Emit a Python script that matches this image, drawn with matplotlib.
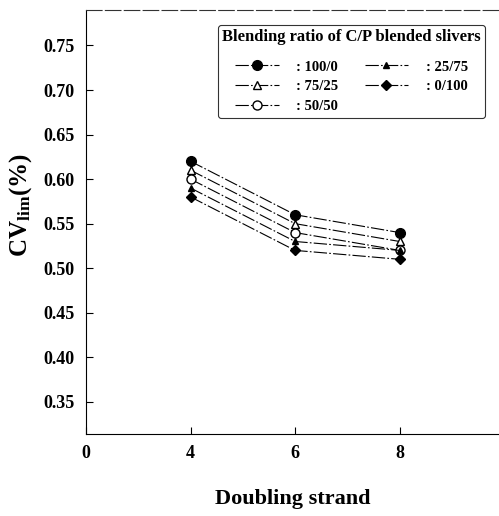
import matplotlib
matplotlib.use("Agg")
import matplotlib.pyplot as plt

categories = ["4", "6", "8"]
labels = [": 100/0", ": 75/25", ": 50/50", ": 25/75", ": 0/100"]
s100_0 = [0.62, 0.56, 0.54]
s75_25 = [0.61, 0.55, 0.53]
s50_50 = [0.60, 0.54, 0.52]
s25_75 = [0.59, 0.53, 0.52]
s0_100 = [0.58, 0.52, 0.51]
yticks = [0.35, 0.40, 0.45, 0.50, 0.55, 0.60, 0.65, 0.70, 0.75]

plt.rcParams['font.family'] = ['Liberation Serif', 'DejaVu Serif']
plt.rcParams['font.weight'] = 'bold'
plt.rcParams['mathtext.fontset'] = 'custom'
plt.rcParams['mathtext.rm'] = 'Liberation Serif:bold'
plt.rcParams['mathtext.bf'] = 'Liberation Serif:bold'
plt.rcParams['mathtext.it'] = 'Liberation Serif:bold'

fig = plt.figure(figsize=(4.99, 5.16), dpi=100)
ax = fig.add_axes([0.1723, 0.159, 0.8277, 0.822])

xpos = [1, 2, 3]
styles = [
    dict(marker='o', ms=7, mfc='black', mec='black'),
    dict(marker='^', ms=5.5, mfc='white', mec='black'),
    dict(marker='o', ms=6.5, mfc='white', mec='black'),
    dict(marker='^', ms=5, mfc='black', mec='black'),
    dict(marker='D', ms=5, mfc='black', mec='black'),
]
series = [s100_0, s75_25, s50_50, s25_75, s0_100]
for vals, lab, st in zip(series, labels, styles):
    ax.plot(xpos, vals, color='black', lw=0.8, linestyle=(0, (12, 2, 1.5, 2)),
            label=lab, **st)

ax.set_xlim(0, 3.95)
ax.set_ylim(0.314, 0.790)
ax.set_xticks([0] + xpos)
ax.set_xticklabels(["0"] + categories)
ax.set_yticks(yticks)
ax.set_yticklabels([f"{v:.2f}" for v in yticks])
ax.tick_params(direction='in', length=5, width=0.8, labelsize=13, pad=8)
for t in ax.get_xticklabels() + ax.get_yticklabels():
    t.set_fontweight('bold')
ax.spines['right'].set_visible(False)
ax.spines['top'].set_linestyle((0, (14, 3)))
ax.spines['top'].set_color('#333333')
for sp in ax.spines.values():
    sp.set_linewidth(0.8)

ax.set_xlabel("Doubling strand", fontsize=16, fontweight='bold')
ax.xaxis.set_label_coords(0.5, -0.13)
ax.set_ylabel(r"$\mathrm{CV}_{\mathrm{lim}}\mathrm{(\%)}$", fontsize=18)
ax.yaxis.set_label_coords(-0.125, 0.54)

leg = ax.legend(ncol=2, loc='upper right', bbox_to_anchor=(0.984, 0.982),
                title="Blending ratio of C/P blended slivers",
                prop=dict(family='Liberation Serif', weight='bold', size=10.5),
                title_fontproperties=dict(family='Liberation Serif', weight='bold', size=12),
                frameon=True, fancybox=True, edgecolor='black', handlelength=3.0,
                handletextpad=1.2, columnspacing=1.8, labelspacing=0.45, borderpad=0.3)
leg._legend_box.sep = 11
leg.get_frame().set_linewidth(0.8)

fig.savefig("out.png", dpi=100)
